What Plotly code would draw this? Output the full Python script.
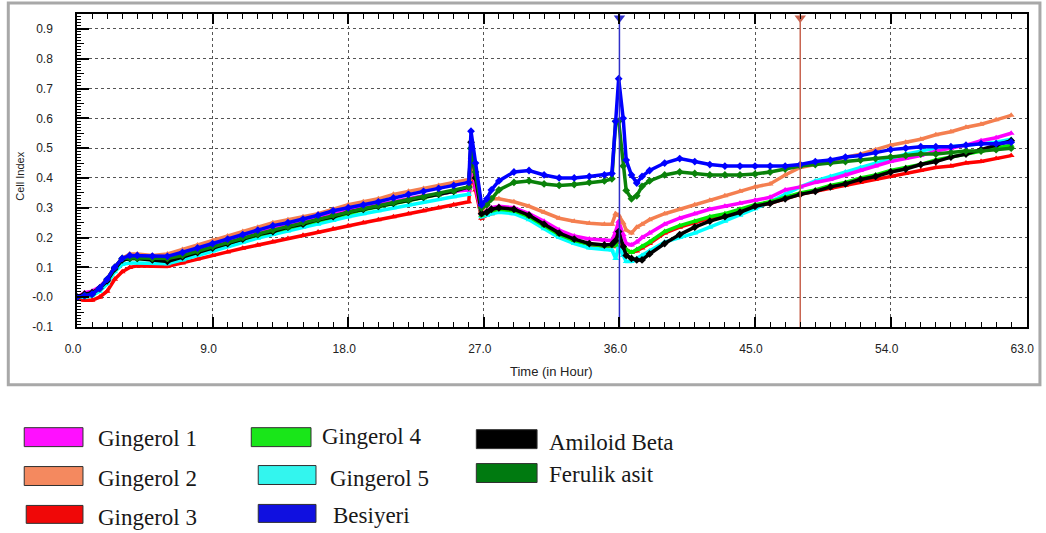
import plotly.graph_objects as go

# ---------------- data ----------------
time_h = [0, 0.5, 1, 1.5, 2, 2.5, 3, 3.5, 4, 5, 6, 7, 8, 9, 10, 11, 12, 13, 14, 15,
          16, 17, 18, 19, 20, 21, 22, 23, 24, 25, 26,
          26.15, 26.45, 26.85, 27.2, 27.5,
          28, 29, 30, 31, 32, 33, 34, 35,
          35.5, 35.75, 35.95, 36.25, 36.45, 36.8, 37.15, 37.5,
          38, 39, 40, 41, 42, 43, 44, 45, 46, 47, 48, 49, 50, 51, 52, 53, 54, 55, 56,
          57, 58, 59, 60, 61, 62]

gingerol_1 = [0.0, 0.015, 0.02, 0.035, 0.06, 0.1, 0.13, 0.14, 0.14, 0.135, 0.13, 0.145, 0.16, 0.175,
              0.19, 0.205, 0.22, 0.235, 0.245, 0.255, 0.265, 0.28, 0.29, 0.3, 0.31, 0.32, 0.33, 0.34,
              0.345, 0.355, 0.36,
              0.47, 0.37, 0.28, 0.29, 0.3,
              0.305, 0.3, 0.28, 0.255, 0.225, 0.205, 0.195, 0.19,
              0.19, 0.22, 0.255, 0.21, 0.18, 0.175, 0.185, 0.2,
              0.215, 0.245, 0.265, 0.28, 0.295, 0.305, 0.315, 0.325, 0.335, 0.36, 0.37, 0.385, 0.395,
              0.41, 0.425, 0.44, 0.455, 0.465, 0.475, 0.49, 0.5, 0.51, 0.525, 0.535, 0.55]

gingerol_2 = [0.0, 0.005, 0.01, 0.03, 0.06, 0.1, 0.13, 0.145, 0.145, 0.14, 0.145, 0.16, 0.175, 0.19,
              0.205, 0.22, 0.235, 0.25, 0.26, 0.27, 0.28, 0.295, 0.31, 0.32, 0.33, 0.345, 0.355, 0.365,
              0.375, 0.385, 0.395,
              0.46, 0.4, 0.29, 0.31, 0.33,
              0.33, 0.32, 0.305, 0.285, 0.265, 0.255, 0.248, 0.245,
              0.245, 0.28, 0.275, 0.25, 0.225, 0.215, 0.235, 0.245,
              0.26, 0.28, 0.295, 0.31, 0.325, 0.34, 0.355, 0.37, 0.38, 0.41, 0.435, 0.445, 0.455,
              0.47, 0.48, 0.495, 0.51, 0.52, 0.53, 0.545, 0.555, 0.57, 0.58, 0.595, 0.61]

gingerol_3 = [-0.005, -0.01, -0.01, 0.0, 0.02, 0.06, 0.085, 0.1, 0.105, 0.105, 0.103, 0.115, 0.128, 0.14,
              0.152, 0.164, 0.175, 0.186, 0.197, 0.208, 0.219, 0.23, 0.24, 0.25, 0.26, 0.27, 0.28, 0.29,
              0.3, 0.31, 0.32,
              0.42, 0.36, 0.265, 0.275, 0.28,
              0.29, 0.285, 0.265, 0.24, 0.21, 0.19, 0.175, 0.17,
              0.17, 0.17, 0.19, 0.17, 0.16, 0.15, 0.155, 0.165,
              0.18, 0.215, 0.235, 0.25, 0.265, 0.275, 0.29, 0.305, 0.315, 0.33, 0.345, 0.355, 0.365,
              0.375, 0.385, 0.395, 0.405, 0.415, 0.425, 0.435, 0.44, 0.45, 0.455, 0.465, 0.475]

gingerol_4 = [0.0, 0.005, 0.01, 0.03, 0.055, 0.095, 0.125, 0.13, 0.13, 0.127, 0.125, 0.137, 0.152, 0.167,
              0.18, 0.195, 0.208, 0.22, 0.232, 0.245, 0.257, 0.27, 0.283, 0.293, 0.303, 0.313, 0.323,
              0.333, 0.343, 0.353, 0.365,
              0.5, 0.4, 0.275, 0.285, 0.29,
              0.295, 0.29, 0.27, 0.24, 0.21, 0.19, 0.178, 0.172,
              0.172, 0.175, 0.2, 0.175, 0.16, 0.15, 0.16, 0.17,
              0.185, 0.22, 0.24, 0.255, 0.27, 0.28, 0.295, 0.31, 0.32, 0.335, 0.35, 0.36, 0.375,
              0.385, 0.4, 0.41, 0.425, 0.435, 0.445, 0.46, 0.47, 0.48, 0.49, 0.5, 0.51]

gingerol_5 = [0.0, 0.0, 0.005, 0.02, 0.045, 0.085, 0.11, 0.115, 0.115, 0.113, 0.112, 0.125, 0.14, 0.155,
              0.17, 0.185, 0.198, 0.21, 0.222, 0.235, 0.245, 0.257, 0.27, 0.28, 0.29, 0.3, 0.31, 0.32,
              0.328, 0.337, 0.345,
              0.5, 0.39, 0.27, 0.275, 0.28,
              0.285, 0.28, 0.26, 0.23, 0.2, 0.18, 0.165, 0.16,
              0.158, 0.13, 0.17, 0.14, 0.12, 0.12, 0.13, 0.14,
              0.155, 0.185, 0.2, 0.215, 0.235, 0.255, 0.275, 0.297, 0.32, 0.345, 0.37, 0.39, 0.405,
              0.42, 0.435, 0.45, 0.465, 0.48, 0.49, 0.5, 0.505, 0.51, 0.515, 0.52, 0.53]

besiyeri = [0.0, 0.005, 0.01, 0.03, 0.06, 0.1, 0.13, 0.14, 0.14, 0.138, 0.137, 0.15, 0.165, 0.18,
            0.195, 0.21, 0.225, 0.24, 0.25, 0.262, 0.275, 0.29, 0.3, 0.31, 0.32, 0.333, 0.345, 0.355,
            0.365, 0.375, 0.385,
            0.557, 0.45, 0.31, 0.33, 0.36,
            0.39, 0.42, 0.425, 0.41, 0.4, 0.4, 0.405, 0.41,
            0.415, 0.59, 0.733, 0.6, 0.46, 0.41, 0.383, 0.405,
            0.425, 0.45, 0.465, 0.455, 0.445, 0.44, 0.44, 0.44, 0.44, 0.44, 0.445, 0.455, 0.46,
            0.47, 0.475, 0.485, 0.495, 0.5, 0.505, 0.505, 0.505, 0.51, 0.515, 0.515, 0.52]

amiloid_beta = [0.0, 0.01, 0.015, 0.03, 0.055, 0.095, 0.125, 0.13, 0.13, 0.125, 0.12, 0.135, 0.15, 0.165,
                0.18, 0.195, 0.21, 0.22, 0.235, 0.245, 0.26, 0.27, 0.285, 0.295, 0.305, 0.315, 0.325,
                0.335, 0.345, 0.355, 0.37,
                0.52, 0.4, 0.28, 0.285, 0.295,
                0.3, 0.295, 0.275, 0.245, 0.215, 0.195, 0.18, 0.175,
                0.177, 0.19, 0.22, 0.17, 0.14, 0.13, 0.125, 0.125,
                0.145, 0.18, 0.21, 0.235, 0.255, 0.27, 0.285, 0.305, 0.315, 0.33, 0.345, 0.355, 0.37,
                0.38, 0.395, 0.405, 0.42, 0.43, 0.445, 0.455, 0.47, 0.48, 0.495, 0.51, 0.525]

ferulik_asit = [0.0, 0.005, 0.01, 0.03, 0.06, 0.1, 0.13, 0.132, 0.132, 0.13, 0.13, 0.14, 0.155, 0.17,
                0.185, 0.2, 0.212, 0.225, 0.237, 0.25, 0.262, 0.275, 0.287, 0.297, 0.307, 0.317, 0.327,
                0.337, 0.347, 0.357, 0.37,
                0.5, 0.42, 0.3, 0.31, 0.33,
                0.36, 0.385, 0.39, 0.38, 0.375, 0.378, 0.385, 0.39,
                0.397, 0.59, 0.59, 0.44, 0.358, 0.33, 0.34, 0.372,
                0.39, 0.41, 0.42, 0.415, 0.41, 0.41, 0.41, 0.413, 0.42, 0.43, 0.44, 0.445, 0.45,
                0.455, 0.46, 0.465, 0.47, 0.475, 0.48, 0.48, 0.485, 0.49, 0.49, 0.495, 0.5]

series_names = ["Gingerol 1", "Gingerol 2", "Gingerol 3", "Gingerol 4", "Gingerol 5",
                "Besiyeri", "Amiloid Beta", "Ferulik asit"]
series_values = [gingerol_1, gingerol_2, gingerol_3, gingerol_4, gingerol_5,
                 besiyeri, amiloid_beta, ferulik_asit]

event_times = [36.0, 48.0]

x_tick_vals = [0, 9, 18, 27, 36, 45, 54, 63]
x_tick_labels = ["0.0", "9.0", "18.0", "27.0", "36.0", "45.0", "54.0", "63.0"]
y_tick_vals = [-0.1, 0.0, 0.1, 0.2, 0.3, 0.4, 0.5, 0.6, 0.7, 0.8, 0.9]
y_tick_labels = ["-0.1", "-0.0", "0.1", "0.2", "0.3", "0.4", "0.5", "0.6", "0.7", "0.8", "0.9"]

# ---------------- styles ----------------
colors = {
    "Gingerol 1": "#ff00ff",
    "Gingerol 2": "#f47f50",
    "Gingerol 3": "#ff0000",
    "Gingerol 4": "#00e800",
    "Gingerol 5": "#00ffff",
    "Besiyeri": "#0000ff",
    "Amiloid Beta": "#000000",
    "Ferulik asit": "#0a820a",
}
legend_colors = {
    "Gingerol 1": "#ff10ff",
    "Gingerol 2": "#f4895f",
    "Gingerol 3": "#f00808",
    "Gingerol 4": "#19e619",
    "Gingerol 5": "#33f5ee",
    "Besiyeri": "#1010e0",
    "Amiloid Beta": "#000000",
    "Ferulik asit": "#007a10",
}
symbols = {
    "Gingerol 1": "triangle-up", "Gingerol 2": "triangle-up", "Gingerol 3": "triangle-up",
    "Gingerol 4": "triangle-up", "Gingerol 5": "triangle-up", "Besiyeri": "diamond",
    "Amiloid Beta": "diamond", "Ferulik asit": "diamond",
}
draw_order = ["Gingerol 3", "Gingerol 5", "Gingerol 4", "Gingerol 1", "Gingerol 2",
              "Amiloid Beta", "Ferulik asit", "Besiyeri"]

L, R, T, B = 77, 1031, 13, 327
W, H = 1046, 533
X_RANGE = [0, 63.05]
Y_RANGE = [-0.1, 0.95]


def px_x(px):
    return (px - L) / (R - L)


def px_y(py):
    return (B - py) / (B - T)


fig = go.Figure()

# invisible anchor points so that the overlay tick-only axes get drawn
for ya in ["y2", "y3"]:
    fig.add_trace(go.Scatter(x=[X_RANGE[0]], y=[Y_RANGE[0]], xaxis="x2", yaxis=ya, mode="markers",
                             marker=dict(opacity=0, size=1), showlegend=False, hoverinfo="skip"))

for name in draw_order:
    vals = series_values[series_names.index(name)]
    fig.add_trace(go.Scatter(
        x=time_h, y=vals, mode="lines+markers", name=name, showlegend=False,
        line=dict(color=colors[name], width=3.5),
        marker=dict(symbol=symbols[name], size=6, color=colors[name]),
    ))

# event lines
event_colors = ["#3030c8", "#c8644f"]
for et, ec in zip(event_times, event_colors):
    fig.add_trace(go.Scatter(
        x=[et, et], y=Y_RANGE, mode="lines", showlegend=False,
        line=dict(color=ec, width=1.5), hoverinfo="skip"))
    fig.add_trace(go.Scatter(
        x=[et], y=[0.937], mode="markers", showlegend=False, cliponaxis=False,
        marker=dict(symbol="triangle-down", size=10, color=ec), hoverinfo="skip"))

tick_font = dict(family="Liberation Sans Narrow, Liberation Sans, Arial", size=12, color="#222")

fig.update_layout(
    xaxis=dict(
        range=X_RANGE, tickmode="array", tickvals=x_tick_vals, ticktext=x_tick_labels,
        ticks="inside", ticklen=10, tickwidth=1.5, tickcolor="black",
        showline=True, linecolor="black", linewidth=1.5, mirror="allticks",
        showgrid=True, gridcolor="#555", griddash="dot", gridwidth=1, zeroline=False,
        tickfont=tick_font, ticklabelstandoff=10, ticklabelshift=-4,
    ),
    yaxis=dict(
        range=Y_RANGE, tickmode="array", tickvals=y_tick_vals, ticktext=y_tick_labels,
        ticks="inside", ticklen=12, tickwidth=1.5, tickcolor="black",
        showline=True, linecolor="black", linewidth=1.5, mirror=True,
        showgrid=True, gridcolor="#555", griddash="dot", gridwidth=1, zeroline=False,
        tickfont=tick_font, ticklabelstandoff=20,
    ),
    xaxis2=dict(
        overlaying="x", anchor="y", range=X_RANGE, tickmode="linear", tick0=0, dtick=1,
        ticks="inside", ticklen=5, tickwidth=1, tickcolor="black", mirror="ticks",
        showticklabels=False, showgrid=False, zeroline=False, showline=False, side="bottom",
    ),
    yaxis2=dict(
        overlaying="y", anchor="x", range=Y_RANGE, tickmode="linear", tick0=0, dtick=0.01,
        ticks="inside", ticklen=4, tickwidth=1, tickcolor="black", side="left",
        showticklabels=False, showgrid=False, zeroline=False, showline=False,
    ),
    yaxis3=dict(
        overlaying="y", anchor="x", range=Y_RANGE, tickmode="linear", tick0=0, dtick=0.05,
        ticks="inside", ticklen=7, tickwidth=1, tickcolor="black", side="left",
        showticklabels=False, showgrid=False, zeroline=False, showline=False,
    ),
)

shapes = []
annotations = []
# outer gray frame
shapes.append(dict(type="rect", xref="paper", yref="paper",
                   x0=px_x(8), x1=px_x(1044), y0=px_y(385), y1=px_y(2),
                   line=dict(color="#a8a8a8", width=3), layer="below"))

annotations.append(dict(text="Cell Index", xref="paper", yref="paper",
                        x=px_x(20), y=px_y(176), textangle=-90, showarrow=False,
                        font=dict(family="Liberation Sans, Arial", size=11, color="#222"),
                        xanchor="center", yanchor="middle"))
annotations.append(dict(text="Time (in Hour)", xref="paper", yref="paper",
                        x=px_x(553), y=px_y(372), showarrow=False,
                        font=dict(family="Liberation Sans Narrow, Liberation Sans, Arial", size=13, color="#222"),
                        xanchor="center", yanchor="middle"))

# custom legend (rect px box + text px pos)
legend_pos = {
    "Gingerol 1": (24, 428, 83, 447, 96, 439),
    "Gingerol 2": (24, 467, 83, 486, 96, 479),
    "Gingerol 3": (26, 506, 83, 524, 96, 518),
    "Gingerol 4": (252, 428, 312, 447, 321, 437),
    "Gingerol 5": (259, 466, 317, 485, 329, 479),
    "Besiyeri": (259, 505, 317, 523, 332, 516),
    "Amiloid Beta": (478, 430, 539, 449, 549, 443),
    "Ferulik asit": (478, 464, 539, 483, 549, 475),
}
for name in series_names:
    x0, y0, x1, y1, tx, ty = legend_pos[name]
    shapes.append(dict(type="rect", xref="paper", yref="paper",
                       x0=px_x(x0), x1=px_x(x1), y0=px_y(y1), y1=px_y(y0),
                       fillcolor=legend_colors[name], line=dict(color="#303030", width=1)))
    annotations.append(dict(text=name, xref="paper", yref="paper", x=px_x(tx), y=px_y(ty),
                            showarrow=False, xanchor="left", yanchor="middle",
                            font=dict(family="Liberation Serif, Times New Roman", size=23, color="#181818")))

fig.update_layout(
    width=W, height=H, margin=dict(l=L, r=W - R, t=T, b=H - B),
    paper_bgcolor="white", plot_bgcolor="white",
    shapes=shapes, annotations=annotations, showlegend=False,
)

fig.write_html("out.html")
